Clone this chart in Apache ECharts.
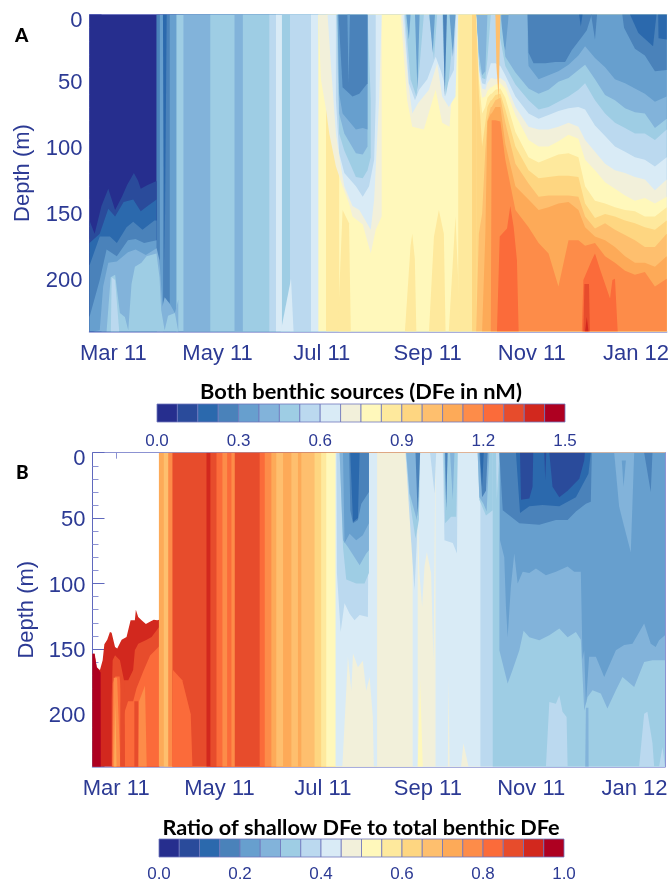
<!DOCTYPE html>
<html><head><meta charset="utf-8">
<style>html,body{margin:0;padding:0;background:#fff}#c{width:672px;height:883px}</style>
<script src="https://cdn.jsdelivr.net/npm/echarts@6/dist/echarts.min.js"></script>
</head><body><div id="c"></div>
<script>
// Colour classes of the two contour plots, lowest to highest
const palette=['#262e8e','#2a4b9b','#2b69ad','#4a82ba','#679fce','#82b3da','#9ecde4','#bbd9ef','#d9ebf6','#f2f0da','#fff8bb','#fee99d','#fed681','#febf6e','#fdaa58','#fd8c49','#fb6b3a','#e74c2c','#d2281e','#ae0021'];
// Time: days since 15 Feb 2011
const xMax=338, depthMax=240;
const tickDays=[14,75,136,198,259,320];
const tickLabels=['Mar 11','May 11','Jul 11','Sep 11','Nov 11','Jan 12'];

// ---------- Panel A: vertical bands (start day, class)
const A_stripDays=[0,39.2,41.2,43.1,47,50.9,55,70.7,84.9,89.8,105.3,109.2,112.7,117.4,129.7,134,138.5,146.2,215.9,224,226.4,241.2,245.5,256.5];
const A_stripLevels=[0,3,4,3,4,6,5,6,5,6,7,8,6,7,8,10,11,10,11,12,5,4,5,4];
// Panel A: isolines rising from the bottom, early period
const A_e1=[[0,156],[3,166],[7,145],[11,132],[15,148],[19,138],[22,129],[26,120],[28.5,126],[30,132],[34,129],[39.3,126]];
const A_e2=[[0,173],[6,166],[11,147],[15,153],[20,142],[25.6,140],[30,149],[34,145],[39.3,140]];
const A_e3=[[0,190],[6,168],[12,168],[16,173],[21.7,161],[25.6,157],[31,163],[38,156],[39.3,156]];
const A_e4=[[0,229],[6,201],[10,178],[16,183],[22.5,171],[27,170],[32,173],[39.3,171]];
const A_e5=[[2,240],[6,239],[8,206],[11,188],[16,187],[22.5,180],[27,178],[33,182],[39.3,177],[41,186],[42.7,221],[44,214],[47,219],[50,226],[52,216]];
const A_e6=[[10,240],[12.4,199],[15,197],[17.8,226],[20.7,229],[22.7,239],[24.6,204],[26.6,191],[30.4,188],[33.4,183],[39.2,181],[41,199],[42,224],[44,239],[46,228],[50,226],[52,240]];
const A_e7=[[12.5,240],[13,199],[15,201],[17.4,240]];
const A_e8=[[112,240],[118,200],[119.5,240]];
const A_slit2=[[43,0],[44,188],[45.2,0]];
// Panel A: deep yellow rises
const A_r0=[[145.3,240],[148.2,148],[152,158],[153,240]];
const A_r1=[[184.7,240],[188,175],[189,166],[190.5,185],[191.4,240]];
const A_r2=[[198.8,240],[201.7,168],[204.6,148],[207.5,166],[208.5,240]];
const A_r3=[[210.4,240],[214.3,153],[217.2,240]];
// Panel A: tongues hanging from the surface
const A_t1_9=[[134,0],[135.5,49],[138.5,72],[140.4,90],[144.3,115],[148.2,130],[152,143],[154,153],[160,159],[164.7,181],[167.6,163],[171.1,153],[171.1,0]];
const A_t1_8=[[139.4,0],[141.4,39],[144.3,90],[147.2,115],[149.2,130],[154,145],[158,148],[164.7,163],[166.7,140],[169.6,65],[171.1,0]];
const A_t1_7=[[144.3,0],[144.3,65],[146.2,105],[149.2,120],[156,130],[160,138],[163.7,130],[166.7,110],[167.6,65],[167.6,0]];
const A_t1_6=[[144.7,0],[146.2,90],[149.2,103],[156,123],[160,124],[162.8,118],[164.7,108],[164.7,65],[162.8,0]];
const A_t1_5=[[145.3,0],[146.2,75],[149.2,90],[156,105],[160,106],[162.8,100],[162.8,0]];
const A_t1_4=[[145.3,0],[146.2,60],[148.2,75],[156,87],[160,86],[162.8,87],[162.8,0]];
const A_t1_3=[[145.8,0],[148.2,55],[154,62],[158,60],[162.8,52],[162.8,0]];
const A_t1_s=[[151,0],[151.7,52],[152.5,0]];
const A_t2_9=[[182.2,0],[186,65],[189,85],[195.8,87],[202.7,57],[206.5,82],[210.8,85],[215.9,0]];
const A_t2_8=[[183.2,0],[186.7,52],[189,75],[192.5,67],[198.8,57],[203.6,37],[206.5,62],[210.4,70],[214.3,62],[215.9,0]];
const A_t2_7=[[184.2,0],[187,52],[190.6,65],[193,57],[197.8,49],[202.7,32],[205.6,42],[208.5,55],[213.4,42],[214.7,0]];
const A_t2_6a=[[184.8,0],[188,49],[191.4,62],[193.3,39],[195.8,0]];
const A_t2_6b=[[198.8,0],[201.7,34],[203.6,0]];
const A_t2_6c=[[206.5,0],[208.5,62],[210.4,49],[214.3,0]];
const A_t2_4a=[[185.5,0],[187,19],[188,0]];
const A_t2_4b=[[190.6,0],[192,57],[193.3,0]];
const A_t2_4c=[[199,0],[201,29],[202.3,0]];
const A_t2_3d=[[207,0],[208,62],[209.3,0]];
const A_t2_4e=[[210.8,0],[212.8,32],[214.3,0]];
// Panel A: contour depths (m) across the last months
const A_isoDays=[226.4,228,229.9,231.8,233,235,235.5,237.7,240.6,243.5,249.4,257.1,263,268.8,274.6,280.5,286.3,290.2,296,301.9,307.7,313.6,319.4,325.2,331.1,338];
const A_iso5=[[241.2,17],[243.5,27],[245.5,0],[256.4,0],[256.5,27],[257.1,39],[263,49],[268.8,46],[274.6,43],[280.5,38],[286.3,31],[290.2,24],[296,33],[301.9,40],[307.7,49],[313.6,52],[319.4,56],[325.2,60],[331.1,66],[338,62]];
const A_iso6=[0,29,46,43,0,0,0,0,0,32,44,56,60,57,51,48,42,38,49,61,65,71,74,75,86,79];
const A_iso7=[0,37,48,49,34,0,0,0,19,39,53,65,72,70,66,62,57,52,65,75,82,86,90,90,95,87];
const A_iso8=[0,41,52,53,46,37,37,37,39,46,62,75,79,76,73,71,70,72,84,92,100,104,108,110,115,108];
const A_iso9=[0,43,56,57,52,48,48,49,48,51,70,85,87,87,85,82,85,95,104,113,118,120,123,125,133,125];
const A_iso10=[0,46,63,62,58,55,55,53,52,56,76,95,100,100,96,91,94,110,118,127,132,137,141,139,143,138];
const A_iso11=[0,49,75,70,63,60,60,57,56,63,89,108,112,109,106,105,108,130,141,143,146,148,149,153,153,146];
const A_iso12=[0,60,100,82,70,65,65,61,60,72,100,118,124,123,122,122,123,143,154,151,153,156,158,161,163,156];
const A_iso13=[240,166,151,103,80,70,70,65,63,82,113,128,138,137,137,137,138,153,162,158,163,167,171,176,176,166];
const A_iso14=[240,240,240,166,81,75,75,70,70,98,130,140,148,146,143,142,148,161,168,171,176,183,188,188,191,183];
const A_iso15=[240,240,240,240,240,240,80,80,81,110,148,161,173,181,206,171,171,175,173,183,188,194,197,195,206,200];
const A_m16a=[[238.6,240],[240.2,168],[244.5,162],[246.4,145],[248.4,161],[250.3,186],[251.3,240]];
const A_m16b=[[288.3,240],[289.2,201],[294.1,186],[296,181],[299,193],[304.8,215],[306.2,201],[307.7,200],[309.3,240]];
const A_m17=[[289.2,240],[289.8,204],[292.5,204],[293,240]];
const A_m18=[[290.2,240],[291.2,229],[292.2,240]];
const A_thin13=[[237.7,0],[238.3,39],[239.6,65],[240.6,0]];
const A_b3a=[[256.5,0],[257.1,29],[260,37],[266.9,37],[272.7,36],[278.5,36],[282.4,27],[288.3,17],[291.2,12],[294.1,0]];
const A_b3b=[[312,0],[313,10],[319.4,26],[325.2,31],[331.1,43],[338,42],[338,0]];
const A_b3c=[[293.7,0],[296,19],[297.2,0]];
const A_b2a=[[316.5,0],[321.4,14],[330,24],[332,0]];
const A_b2b=[[333,0],[333.2,18],[338,19],[338,0]];
const A_b2c=[[286.7,0],[287.7,9],[288.7,0]];

// ---------- Panel B
const B_stripDays=[39.2,42.1,44.7,47.2,67.3,69.6,73.2,76.7,79.5,82,84,98.7,101.7,105.6,108.5,112.5,117.4,121.3,123.3,131.1,135,138,143.5,168,189,192,202.5,229,236.3];
const B_stripLevels=[14,13,15,17,18,17,16,15,16,15,17,16,15,14,13,14,13,14,13,12,11,10,8,9,8,9,8,7,6];
// Top of the data in the early period, above it there is none
const B_dataTop=[[0,153.6],[1.1,153.6],[1.3,153.5],[2.5,164],[4.4,166],[6,158.6],[7,146.4],[8.7,143],[10.3,137],[11.3,137.7],[13.3,148.5],[14.6,149.7],[17.2,143],[20.1,140.8],[22.5,128],[25,128],[25.6,120],[27,125.5],[29,128],[31.5,131],[33.9,129.3],[36.2,127.6],[38.2,128],[39.5,127.6]];
const B_e19=[[0,153.6],[1.1,153.6],[2.5,164],[4.8,168],[4.9,240]];
const B_e17=[[11.3,189],[11.9,158.6],[13.3,154.8],[16.2,158.6],[18.6,174],[21.1,174],[24,166],[25,151],[27,146],[32,143],[34.9,140.8],[39.4,133]];
const B_e16=[[11.5,240],[12,176],[13.5,171],[16,171],[18.5,200],[21,190],[24,190],[26,180],[30,167],[34,155],[39.4,148]];
const B_e15a=[[12,240],[12.5,172],[14.5,172],[16.5,240]];
const B_e14a=[[12.7,240],[13.5,190],[14.2,240]];
const B_e15b=[[27,240],[27.5,190],[31,178],[32,240]];
const B_e17b=[[16.3,240],[16.5,170],[19,175],[19.2,240]];
const B_e17c=[[24.7,240],[24.7,190],[27,190],[27,240]];
const B_e16d=[[47,240],[47.5,166],[53,174],[58,200],[59,240]];
const B_r9a=[[147.5,240],[149.8,182],[150.8,156],[152.8,182],[153.8,153.5],[156.7,164],[159.6,159],[161.6,182],[163.6,171.4],[165.5,202],[166.1,240]];
const B_r10=[[192,240],[193.4,174],[195,240]];
const B_r9b=[[209.8,240],[210.2,171],[210.8,240]];
const B_r9c=[[217.6,240],[219,222],[222,240]];
const B_t8=[[191,0],[193,92],[194.6,118],[196,87],[197.4,76],[199.9,92],[201.3,159],[202.5,0]];
const B_t1_7=[[144,0],[144.3,92],[146.5,137],[148.8,115],[151.8,123],[154.7,128],[157.7,124],[162.6,125.5],[163.2,0]];
const B_t1_6=[[145.9,0],[147.9,72],[149.8,97],[155.7,100],[160.6,100],[163.2,92],[163.2,0]];
const B_t1_5=[[145.9,0],[147.9,67],[150.8,72],[154.7,80],[157.7,86],[161.6,77],[163.2,74.5],[163.2,0]];
const B_t1_4=[[147.9,0],[148.8,69],[151.8,62],[155.7,67],[159.6,63],[163.2,54],[163.2,0]];
const B_t1_3=[[151.5,0],[152.2,44],[153.8,54],[156.7,51.5],[158.7,39],[163.2,30],[163.2,0]];
const B_t1_2=[[152.2,0],[153.8,53],[156.7,50],[157.7,0]];
const B_t2_7=[[184.8,0],[186.8,41],[188.1,67],[190.1,105],[191.5,67],[193.4,0]];
const B_t2_6=[[185.2,0],[187.2,36],[190.7,65.5],[192.7,51.5],[193.4,0]];
const B_t2_5=[[185.2,0],[187.2,31],[191.5,51.5],[193,0]];
const B_t2_3=[[190.7,0],[192,49],[193.4,0]];
const B_s7=[[199.3,0],[201.9,31],[202.9,0]];
const B_t3_7=[[206.8,0],[207.8,67],[212.7,69],[215.2,77],[215.6,0]];
const B_t3_6=[[207.2,0],[208.2,54],[211.7,49],[214.7,49],[215.6,0]];
const B_t3_5a=[[207.8,0],[208.8,41],[209.7,0]];
const B_t3_5b=[[211.1,0],[212.7,36],[213.7,0]];
const B_t3_3=[[208.2,0],[208.8,44],[209.6,0]];
const B_t4_6=[[227.4,0],[228.4,36],[232.3,48],[236.3,44],[236.3,0]];
const B_t4_5=[[227.4,0],[228.4,34],[230.8,39],[232.7,45],[234.3,0]];
const B_t4_3=[[228.4,0],[230,34],[232.3,29],[233.3,0]];
const B_t4_2=[[228.8,0],[230,26],[231,0]];
const B_s7b=[[238.2,0],[238.7,36],[240.2,0]];
const B_p7a=[[267.7,240],[269.7,190.5],[273.6,191.8],[275.6,185.4],[277.5,198],[279.9,202],[280.5,240]];
const B_p7b=[[322.7,240],[325.7,199.5],[327.6,198],[330.6,222],[331.6,240]];
const B_p7c=[[334.5,240],[336.5,225],[338,240]];
// Lower limits of classes hanging from the surface in the last months
const B_low5=[[240.2,0],[240.2,151],[243.1,166],[245.1,176.5],[248,166],[252,151],[254.5,136],[257.9,141],[263.8,143.4],[269.7,139.5],[275.6,134.4],[280.5,141],[285.4,137],[288.3,143],[290.3,197],[292.3,186.7],[295.2,181.6],[300.1,184],[304,195.6],[309,181.6],[312.9,171.4],[319.8,179],[325.7,160],[330.6,158.6],[338,158.6],[338,0]];
const B_low4=[[240.6,0],[240.6,67],[243.1,80],[244.1,118],[245.1,141],[247,102.5],[249,77],[251,100],[254,91],[257.9,92],[261.8,88.5],[267.7,93.6],[273.6,91],[280.5,87],[284.4,91],[288.3,91],[289.3,158],[290.3,151],[291.3,193],[293.2,156],[297.2,156],[302.1,171.4],[309,151],[313.9,147],[318.8,146],[325.7,130.6],[329.6,146],[332.5,148.5],[334.5,143.4],[338,139.5],[338,0]];
const B_s5=[[290.9,240],[291.3,195],[292.8,195],[292.9,240]];
const B_n5=[[308,0],[310.9,41],[312.9,51.5],[317.8,76],[319.8,0]];
const B_n4=[[312.5,6],[313.5,26],[314.9,6]];
const B_n3=[[325.7,0],[329.6,30],[330.6,0]];
const B_b3=[[240.2,0],[242.2,44],[252,54],[263.8,55],[273.6,51.5],[280.5,51.5],[285.4,45],[291.3,39],[294.2,37.5],[294.8,0]];
const B_b2=[[250,0],[252.4,46],[257.9,41],[265.7,40],[275.6,41],[285.4,34],[292.8,16],[294.2,0]];
const B_b1a=[[252.4,0],[253,36],[257.9,35],[259.8,26],[260.2,0]];
const B_b1b=[[269.7,0],[271.6,26],[275.6,34],[280.5,29],[287.4,20],[290.3,6],[290.7,0]];
const B_b1c=[[266.7,0],[267.3,21],[267.9,0]];

// ---------- Colour bars
const barAMax=1.5, barAStep=0.3;
const barBMax=1.0, barBStep=0.2;

const below=p=>p.concat([[p[p.length-1][0],depthMax],[p[0][0],depthMax]]);
const stripLayers=(days,levels)=>days.map((d,i)=>[levels[i],[[d,0],[xMax,0],[xMax,depthMax],[d,depthMax]]]);
const isoLayer=(lv,row)=>[lv,below(A_isoDays.map((d,i)=>[d,row[i]]))];

const layersA=[...stripLayers(A_stripDays,A_stripLevels),
 [1,below(A_e1)],[2,below(A_e2)],[3,below(A_e3)],[4,below(A_e4)],[5,below(A_e5)],[6,below(A_e6)],[7,below(A_e7)],[8,below(A_e8)],[2,A_slit2],
 [11,A_r0],[11,A_r1],[11,A_r2],[11,A_r3],
 [9,A_t1_9],[8,A_t1_8],[7,A_t1_7],[6,A_t1_6],[5,A_t1_5],[4,A_t1_4],[3,A_t1_3],[4,A_t1_s],
 [9,A_t2_9],[8,A_t2_8],[7,A_t2_7],[6,A_t2_6a],[6,A_t2_6b],[6,A_t2_6c],[4,A_t2_4a],[4,A_t2_4b],[4,A_t2_4c],[3,A_t2_3d],[4,A_t2_4e],
 [5,below(A_iso5)],
 isoLayer(6,A_iso6),isoLayer(7,A_iso7),isoLayer(8,A_iso8),isoLayer(9,A_iso9),isoLayer(10,A_iso10),isoLayer(11,A_iso11),isoLayer(12,A_iso12),isoLayer(13,A_iso13),isoLayer(14,A_iso14),isoLayer(15,A_iso15),
 [16,A_m16a],[16,A_m16b],[17,A_m17],[18,A_m18],[13,A_thin13],
 [3,A_b3a],[3,A_b3b],[3,A_b3c],[2,A_b2a],[2,A_b2b],[2,A_b2c]];

const layersB=[[18,below(B_dataTop)],[19,below(B_e19)],[17,below(B_e17)],[16,B_e16.concat([[39.4,240]])],[15,B_e15a],[14,B_e14a],[15,B_e15b],[17,B_e17b],[17,B_e17c],
 ...stripLayers(B_stripDays,B_stripLevels),[16,B_e16d],
 [9,B_r9a],[9,B_r9b],[9,B_r9c],[10,B_r10],[8,B_t8],
 [7,B_t1_7],[6,B_t1_6],[5,B_t1_5],[4,B_t1_4],[3,B_t1_3],[2,B_t1_2],
 [7,B_t2_7],[6,B_t2_6],[5,B_t2_5],[3,B_t2_3],[7,B_s7],
 [7,B_t3_7],[6,B_t3_6],[5,B_t3_5a],[5,B_t3_5b],[3,B_t3_3],
 [6,B_t4_6],[5,B_t4_5],[3,B_t4_3],[2,B_t4_2],[7,B_s7b],
 [7,B_p7a],[7,B_p7b],[7,B_p7c],
 [5,B_low5],[4,B_low4],[5,B_s5],[5,B_n5],[4,B_n4],[3,B_n3],[3,B_b3],[2,B_b2],[1,B_b1a],[1,B_b1b],[1,B_b1c]];

const ink='#2c3a94', edge='#8c92d2', sans='Liberation Sans, Arial, sans-serif';
const polySeries=(layers,gridIndex)=>({type:'custom',xAxisIndex:gridIndex,yAxisIndex:gridIndex,clip:true,silent:true,z:2,
 data:layers.map((_,i)=>[i]),encode:{x:0},animation:false,
 renderItem:(p,api)=>{const l=layers[api.value(0)];return{type:'polygon',shape:{points:l[1].map(q=>api.coord(q))},style:{fill:palette[l[0]]}};}});
const barSeries=(gridIndex,axisIndex,maxV)=>({type:'custom',xAxisIndex:axisIndex,yAxisIndex:axisIndex,silent:true,z:2,
 data:palette.map((_,i)=>[i]),encode:{x:0},animation:false,
 renderItem:(p,api)=>{const i=api.value(0);const a=api.coord([i/20*maxV,0]),b=api.coord([(i+1)/20*maxV,1]);
  return{type:'rect',shape:{x:a[0],y:b[1],width:b[0]-a[0],height:a[1]-b[1]},style:{fill:palette[i],stroke:'#6f76bd',lineWidth:0.8}};}});

const xAxisMain=(i)=>({gridIndex:i,type:'value',min:0,max:xMax,position:'bottom',splitLine:{show:false},
 axisLine:{show:true,onZero:false,lineStyle:{color:edge,width:1.5}},
 axisTick:{show:true,inside:true,length:6,customValues:tickDays,lineStyle:{color:edge}},
 axisLabel:{customValues:tickDays,margin:11,color:ink,fontFamily:sans,fontSize:22,
  hideOverlap:false,showMinLabel:true,showMaxLabel:true,
  formatter:v=>tickLabels[tickDays.indexOf(v)]||''}});
const xAxisTop=(i)=>({gridIndex:i,type:'value',min:0,max:xMax,position:'top',splitLine:{show:false},
 axisLine:{show:true,onZero:false,lineStyle:{color:edge,width:1}},
 axisTick:{show:true,inside:true,length:6,customValues:tickDays,lineStyle:{color:edge}},axisLabel:{show:false}});
const depthRich=(pad)=>({z:{fontFamily:sans,fontSize:22,color:ink,padding:[pad,0,0,0]},n:{fontFamily:sans,fontSize:22,color:ink,padding:[4,0,0,0]}});
const yAxisMain=(i)=>({gridIndex:i,type:'value',inverse:true,min:0,max:depthMax,interval:50,position:'left',splitLine:{show:false},
 name:'Depth (m)',nameLocation:'middle',nameRotate:90,nameGap:i===0?56:55,
 nameTextStyle:{color:ink,fontFamily:sans,fontSize:22},
 axisLine:{show:true,onZero:false,lineStyle:{color:'#5f68bd',width:1}},
 axisTick:{show:true,inside:true,length:12,lineStyle:{color:'#5f68bd'}},
 minorTick:{show:true,splitNumber:5,length:6,lineStyle:{color:'#8c92d2'}},
 axisLabel:{margin:7,color:ink,fontFamily:sans,fontSize:22,showMinLabel:true,showMaxLabel:false,
  formatter:v=>v===0?'{z|0}':'{n|'+v+'}',rich:depthRich(12)}});
const yAxisRight=(i)=>({gridIndex:i,type:'value',inverse:true,min:0,max:depthMax,position:'right',splitLine:{show:false},
 axisLine:{show:true,onZero:false,lineStyle:{color:edge,width:1}},axisTick:{show:false},axisLabel:{show:false}});
const barX=(i,maxV,step)=>({gridIndex:i,type:'value',min:0,max:maxV,interval:step,splitLine:{show:false},
 axisLine:{show:false},axisTick:{show:false},
 axisLabel:{margin:i===2?11:9,color:ink,fontFamily:sans,fontSize:17,formatter:v=>v.toFixed(1)}});
const barY=(i)=>({gridIndex:i,type:'value',min:0,max:1,show:false});

const option={animation:false,backgroundColor:'#fff',
 title:[
  {text:'A',left:10,top:21,textStyle:{fontFamily:'Lato',fontWeight:900,fontSize:19,color:'#000'}},
  {text:'B',left:11,top:458,textStyle:{fontFamily:'Lato',fontWeight:900,fontSize:19,color:'#000'}},
  {text:'Both benthic sources (DFe in nM)',left:356,top:376,textAlign:'center',textStyle:{fontFamily:'Lato',fontWeight:700,fontSize:21.8,color:'#000'}},
  {text:'Ratio of shallow DFe to total benthic DFe',left:356,top:812,textAlign:'center',textStyle:{fontFamily:'Lato',fontWeight:700,fontSize:21.7,color:'#000'}}
 ],
 grid:[
  {left:89.5,top:14.5,width:577.5,height:317},
  {left:92.5,top:452.7,width:572.5,height:314},
  {left:157,top:404,width:408,height:18},
  {left:159,top:839,width:405,height:18}
 ],
 xAxis:[xAxisMain(0),xAxisMain(1),barX(2,barAMax,barAStep),barX(3,barBMax,barBStep),xAxisTop(0),xAxisTop(1)],
 yAxis:[yAxisMain(0),yAxisMain(1),barY(2),barY(3),yAxisRight(0),yAxisRight(1)],
 series:[polySeries(layersA,0),polySeries(layersB,1),barSeries(2,2,barAMax),barSeries(3,3,barBMax)]
};
echarts.init(document.getElementById('c'),null,{renderer:'canvas'}).setOption(option);
</script></body></html>
